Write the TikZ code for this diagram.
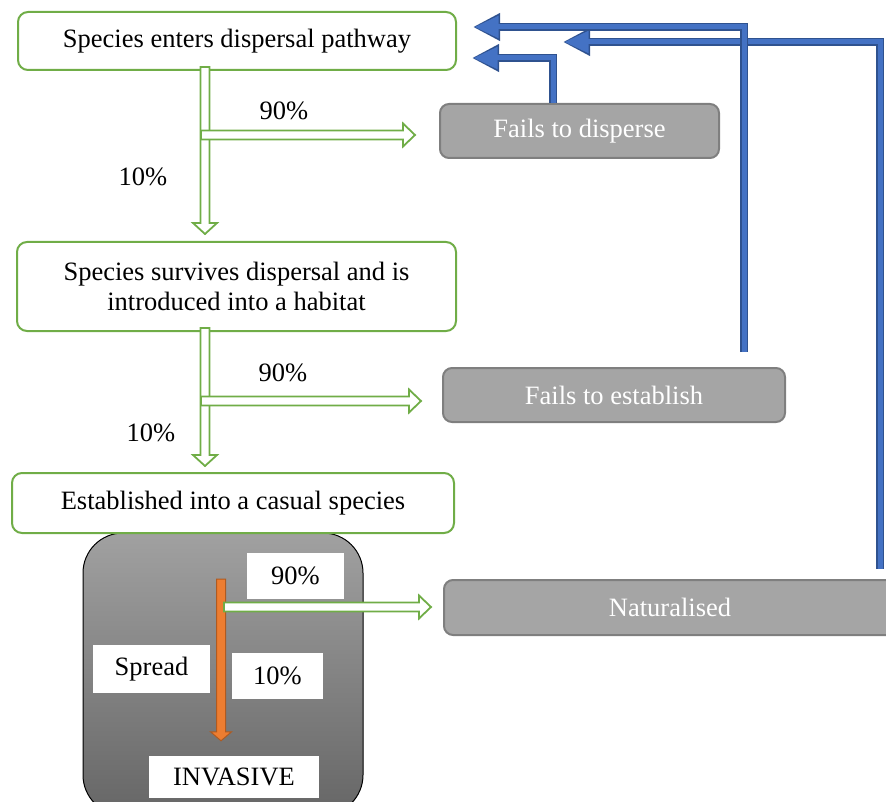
\documentclass[tikz,border=0pt]{standalone}
\usepackage{fontspec}
\setmainfont{Liberation Serif}
\usetikzlibrary{arrows.meta,calc}
\definecolor{gr}{HTML}{70AD47}
\definecolor{bl}{HTML}{4472C4}
\definecolor{bld}{HTML}{2F528F}
\definecolor{gy}{HTML}{A5A5A5}
\definecolor{gyd}{HTML}{7F7F7F}
\definecolor{org}{HTML}{ED7D31}
\definecolor{orgd}{HTML}{AE5A21}
\newcommand\vhollow[2]{\draw[hollow] let \p1=(#1), \p2=(#2) in
  (\x1-4.5pt,\y1) -- (\x1-4.5pt,\y2+11pt) -- (\x1-12pt,\y2+11pt) -- (\x1,\y2) --
  (\x1+12pt,\y2+11pt) -- (\x1+4.5pt,\y2+11pt) -- (\x1+4.5pt,\y1) -- cycle;}
\newcommand\hhollow[2]{\draw[hollow] let \p1=(#1), \p2=(#2) in
  (\x1,\y1+4.5pt) -- (\x2-12pt,\y1+4.5pt) -- (\x2-12pt,\y1+11.5pt) -- (\x2,\y1) --
  (\x2-12pt,\y1-11.5pt) -- (\x2-12pt,\y1-4.5pt) -- (\x1,\y1-4.5pt) -- cycle;}
\tikzset{
  every node/.style={font=\fontsize{26.5}{30}\selectfont},
  box/.style={draw=gr, line width=2pt, rounded corners=10pt, fill=white, align=center, inner sep=0pt},
  gbox/.style={draw=gyd, line width=2pt, fill=gy, rounded corners=9pt, text=white, inner sep=0pt},
  hollow/.style={draw=gr, line width=1.8pt, fill=white, line join=miter},
  lab/.style={fill=white, inner sep=0pt},
  orangearrow/.style={draw=orgd, line width=1pt, fill=org},
  blarrow/.style={draw=bl, line width=5pt, shorten >=1.5pt, -{Triangle[length=24pt,width=21pt]},
    preaction={draw=bld, line width=7.5pt, shorten >=0pt, -{Triangle[length=27pt,width=26pt]}}},
}
\begin{document}
\begin{tikzpicture}[x=1pt,y=-1pt]
\useasboundingbox (0,0) rectangle (886,802);
% main boxes
\node[box, minimum width=438pt, minimum height=58pt] (b1) at (237,41) {Species enters dispersal pathway};
\node[box, minimum width=439pt, minimum height=89pt] (b2) at (236.5,286.5) {Species survives dispersal and is\\introduced into a habitat};
% dark container
\path[draw=black, line width=1pt, rounded corners=40pt, top color=black!37, bottom color=black!60] (83,533) rectangle (363,815);
\node[box, minimum width=442pt, minimum height=60pt] (b3) at (233,503) {Established into a casual species};
% gray boxes
\node[gbox, minimum width=279pt, minimum height=54pt] (d1) at (579.5,131) {Fails to disperse};
\node[gbox, minimum width=342pt, minimum height=54pt] (d2) at (614,395) {Fails to establish};
\node[gbox, minimum width=452pt, minimum height=55pt] (d3) at (670,607.5) {Naturalised};
% junctions
\coordinate (j1) at (205,135);
\coordinate (j2) at (205,401);
% green hollow arrows
\vhollow{$(b1.south-|j1)+(0,-4)$}{$(b2.north-|j1)+(0,-7)$}
\hhollow{$(j1)+(-4,0)$}{$(j1-|d1.west)+(-24,0)$}
\vhollow{$(b2.south-|j2)+(0,-4)$}{$(b3.north-|j2)+(0,-6)$}
\hhollow{$(j2)+(-4,0)$}{$(j2-|d2.west)+(-21,0)$}
% percentages
\node (p90a) at (284,111) {90\%};
\node (p10a) at (143,177) {10\%};
\node (p90b) at (283,373) {90\%};
\node (p10b) at (151,433) {10\%};
% labels in container
\node[lab, minimum width=97pt, minimum height=46pt] (l90) at (295.5,576) {90\%};
\node[lab, minimum width=117pt, minimum height=48pt] (spr) at (151.5,669) {Spread};
\node[lab, minimum width=91pt, minimum height=46pt] (l10) at (277.5,676) {10\%};
\node[lab, minimum width=170pt, minimum height=42pt] (inv) at (234,777) {INVASIVE};
% orange arrow
\coordinate (o1) at (221,579);
\coordinate (o2) at ($(inv.north-|o1)+(0,-15)$);
\draw[orangearrow] let \p1=(o1), \p2=(o2) in
  (\x1-4.5pt,\y1) -- (\x1-4.5pt,\y2+9pt) -- (\x1-10.5pt,\y2+9pt) -- (\x1,\y2) --
  (\x1+10.5pt,\y2+9pt) -- (\x1+4.5pt,\y2+9pt) -- (\x1+4.5pt,\y1) -- cycle;
\coordinate (j3) at (224,607);
\hhollow{j3}{$(j3-|d3.west)+(-12,0)$}
% blue return arrows
\coordinate (kC) at (880,42);
\coordinate (tC) at (563,42);
\draw[blarrow] ($(d3.north-|kC)+(0,-10)$) -- (kC) -- (tC);
\coordinate (kB) at (744,27);
\coordinate (tB) at (473,27);
\draw[blarrow] ($(d2.north-|kB)+(0,-15)$) -- (kB) -- (tB);
\coordinate (kA) at (553,58);
\coordinate (tA) at (472,58);
\draw[blarrow] (d1.north-|kA) -- (kA) -- (tA);
\end{tikzpicture}
\end{document}
